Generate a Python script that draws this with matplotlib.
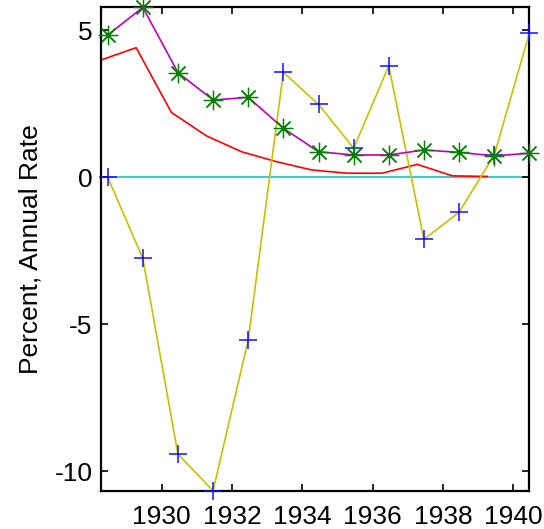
import numpy as np
import matplotlib
matplotlib.use("Agg")
import matplotlib.pyplot as plt

plt.rcParams['font.family'] = ['Liberation Sans', 'DejaVu Sans']
plt.rcParams['axes.unicode_minus'] = False

# mid-year positions for the growth series, earlier positions for the trend series
x_mid = [1928.46, 1929.46, 1930.46, 1931.46, 1932.46, 1933.46, 1934.46,
         1935.46, 1936.46, 1937.46, 1938.46, 1939.46, 1940.46]
x_trend = [1928.27, 1929.27, 1930.27, 1931.27, 1932.27, 1933.27,
           1934.27, 1935.27, 1936.27, 1937.27, 1938.27, 1939.27]

growth = [0.0, -2.76, -9.42, -10.66, -5.53, 3.57, 2.48, 0.99, 3.79,
          -2.11, -1.19, 0.75, 4.90]
rate = [4.84, 5.78, 3.56, 2.63, 2.72, 1.67, 0.87, 0.76, 0.76, 0.93,
        0.85, 0.73, 0.82]
trend = [3.99, 4.41, 2.21, 1.41, 0.87, 0.53, 0.25, 0.14, 0.14, 0.44,
         0.05, 0.03]

xticks = [1930, 1932, 1934, 1936, 1938, 1940]
yticks = [-10, -5, 0, 5]

fig = plt.figure(figsize=(5.44, 5.29), dpi=100)
ax = fig.add_axes([0.1857, 0.0724, 0.973 - 0.1857, 0.986 - 0.0724])

ax.axhline(0, color='#20c0c0', lw=1.2, zorder=1)
ax.plot(x_trend, trend, color='#ff0000', lw=1.2, zorder=2)
ax.plot(x_mid, growth, color='#c8c000', lw=1.2, marker='+', ms=13,
        mec='#1010ff', mew=1.1, clip_on=False, zorder=3)
ax.plot(x_mid, rate, color='#c000c0', lw=1.2, marker=(8, 2, 0), ms=14,
        mec='#008000', mew=0.9, clip_on=False, zorder=4)

ax.set_xlim(1928.27, 1940.46)
ax.set_ylim(-10.66, 5.78)
ax.set_xticks(xticks)
ax.set_yticks(yticks)
ax.tick_params(direction='in', top=True, right=True, length=5, width=1.2,
               labelsize=19)
ax.tick_params(axis='x', pad=10)
ax.tick_params(axis='y', pad=6)
for s in ax.spines.values():
    s.set_linewidth(1.6)
ax.set_ylabel('Percent, Annual Rate', fontsize=19, labelpad=9)

fig.savefig('out.png', dpi=100)
